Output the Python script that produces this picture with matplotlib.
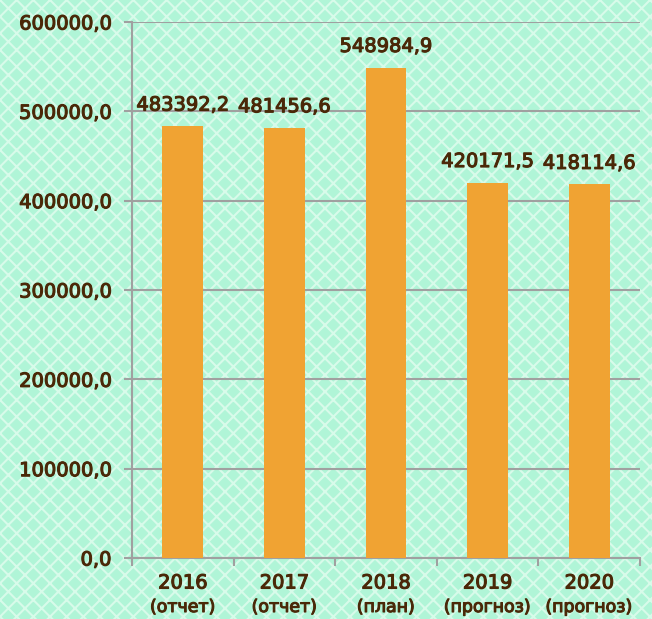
import matplotlib
matplotlib.use("Agg")
import matplotlib.pyplot as plt
import matplotlib.patheffects as pe
from matplotlib.patches import Rectangle

years = ["2016", "2017", "2018", "2019", "2020"]
notes = ["(отчет)", "(отчет)", "(план)", "(прогноз)", "(прогноз)"]
values = [483392.2, 481456.6, 548984.9, 420171.5, 418114.6]

text_color = "#4a2808"
bar_color = "#f0a333"
grid_color = "#a0a0a0"

plt.rcParams["hatch.linewidth"] = 1.5
plt.rcParams["font.family"] = ["DejaVu Sans"]

# slightly heavier than regular, lighter than bold
thick = [pe.withStroke(linewidth=0.8, foreground=text_color)]

fig = plt.figure(figsize=(6.52, 6.19), dpi=100)
fig.patches.append(Rectangle(
    (0, 0), 1, 1,
    transform=fig.transFigure,
    facecolor="#b0f5d7",
    edgecolor="#d8fbea",
    hatch="xx",
    linewidth=0,
    zorder=-10,
))

ax = fig.add_axes([132 / 652, (619 - 558) / 619, 508 / 652, 536 / 619])
ax.set_facecolor("none")

x = list(range(len(years)))
ax.bar(x, values, width=0.4, color=bar_color, zorder=3)

for xi, v in zip(x, values):
    ax.text(
        xi, v + 13000,
        f"{v:.1f}".replace(".", ","),
        ha="center", va="bottom",
        fontsize=14, color=text_color, path_effects=thick,
    )

ax.set_xlim(-0.5, len(years) - 0.5)
ax.set_ylim(0, 600000)
ax.set_yticks(range(0, 600001, 100000))
ax.set_yticklabels([f"{t},0" for t in range(0, 600001, 100000)],
                   fontsize=14, color=text_color)
for lab in ax.get_yticklabels():
    lab.set_path_effects(thick)

ax.set_xticks([i - 0.5 for i in range(len(years) + 1)])
ax.set_xticklabels([])
ax.tick_params(axis="x", length=6, width=1.5, color=grid_color)
ax.tick_params(axis="y", length=6, width=1.5, color=grid_color, pad=9)

# two-line category labels: year larger, note below
for xi, y, n in zip(x, years, notes):
    ax.annotate(y, (xi, 0), xycoords=("data", "axes fraction"),
                xytext=(0, -25), textcoords="offset pixels",
                ha="center", va="center",
                fontsize=14, color=text_color, path_effects=thick)
    ax.annotate(n, (xi, 0), xycoords=("data", "axes fraction"),
                xytext=(0, -49), textcoords="offset pixels",
                ha="center", va="center",
                fontsize=12.5, color=text_color, path_effects=thick)

ax.yaxis.grid(True, color=grid_color, linewidth=1.5, zorder=0)
for side in ["top", "right"]:
    ax.spines[side].set_visible(False)
for side in ["left", "bottom"]:
    ax.spines[side].set_color(grid_color)
    ax.spines[side].set_linewidth(1.5)

fig.savefig("out.png", dpi=100)
